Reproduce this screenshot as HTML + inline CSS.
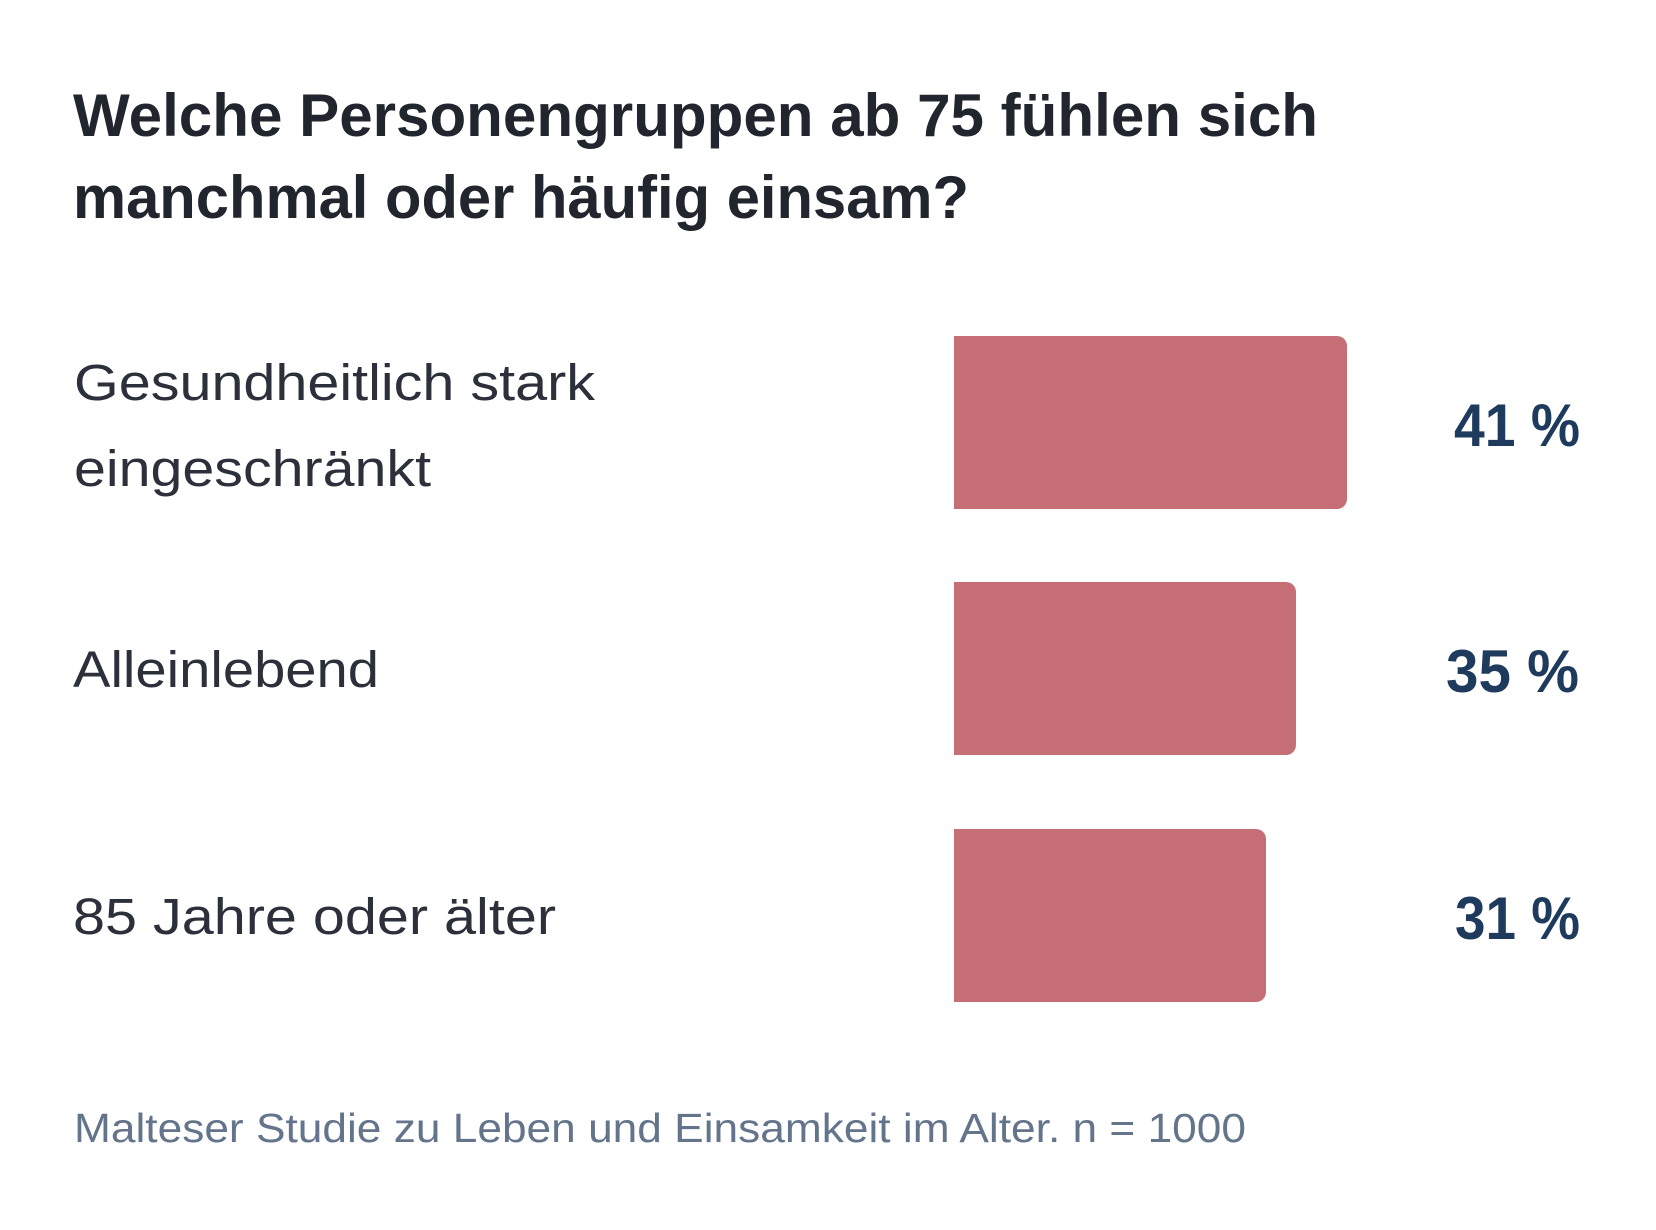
<!DOCTYPE html>
<html>
<head>
<meta charset="utf-8">
<style>
  html, body { margin: 0; padding: 0; background: #ffffff; }
  svg { display: block; }
  .title { font-family: "Liberation Sans", Arial, sans-serif; font-weight: bold; font-size: 60px; fill: #21252e; }
  .label { font-family: "Liberation Sans", Arial, sans-serif; font-size: 51px; fill: #2b303a; }
  .value { font-family: "Liberation Sans", Arial, sans-serif; font-weight: bold; font-size: 60px; fill: #1e3a5c; }
  .foot  { font-family: "Liberation Sans", Arial, sans-serif; font-size: 41px; fill: #64748b; }
</style>
</head>
<body>
<svg width="1656" height="1230" viewBox="0 0 1656 1230" xmlns="http://www.w3.org/2000/svg">
  <rect x="0" y="0" width="1656" height="1230" fill="#ffffff"/>

  <!-- Title -->
  <text class="title" x="73" y="136" textLength="1245" lengthAdjust="spacingAndGlyphs">Welche Personengruppen ab 75 fühlen sich</text>
  <text class="title" x="73" y="218" textLength="896" lengthAdjust="spacingAndGlyphs">manchmal oder häufig einsam?</text>

  <!-- Bars -->
  <path d="M954 336 H1337 A10 10 0 0 1 1347 346 V499 A10 10 0 0 1 1337 509 H954 Z" fill="#c56e76"/>
  <path d="M954 582 H1286 A10 10 0 0 1 1296 592 V745 A10 10 0 0 1 1286 755 H954 Z" fill="#c56e76"/>
  <path d="M954 829 H1256 A10 10 0 0 1 1266 839 V992 A10 10 0 0 1 1256 1002 H954 Z" fill="#c56e76"/>

  <!-- Labels -->
  <text class="label" x="74" y="400" textLength="521" lengthAdjust="spacingAndGlyphs">Gesundheitlich stark</text>
  <text class="label" x="74" y="486" textLength="357" lengthAdjust="spacingAndGlyphs">eingeschränkt</text>
  <text class="label" x="73" y="687" textLength="306" lengthAdjust="spacingAndGlyphs">Alleinlebend</text>
  <text class="label" x="73" y="934" textLength="483" lengthAdjust="spacingAndGlyphs">85 Jahre oder älter</text>

  <!-- Values -->
  <text class="value" x="1454" y="446" textLength="126" lengthAdjust="spacingAndGlyphs">41 %</text>
  <text class="value" x="1446" y="692" textLength="133" lengthAdjust="spacingAndGlyphs">35 %</text>
  <text class="value" x="1455" y="939" textLength="125" lengthAdjust="spacingAndGlyphs">31 %</text>

  <!-- Footer -->
  <text class="foot" x="74" y="1142" textLength="1172" lengthAdjust="spacingAndGlyphs">Malteser Studie zu Leben und Einsamkeit im Alter. n = 1000</text>
</svg>
</body>
</html>
